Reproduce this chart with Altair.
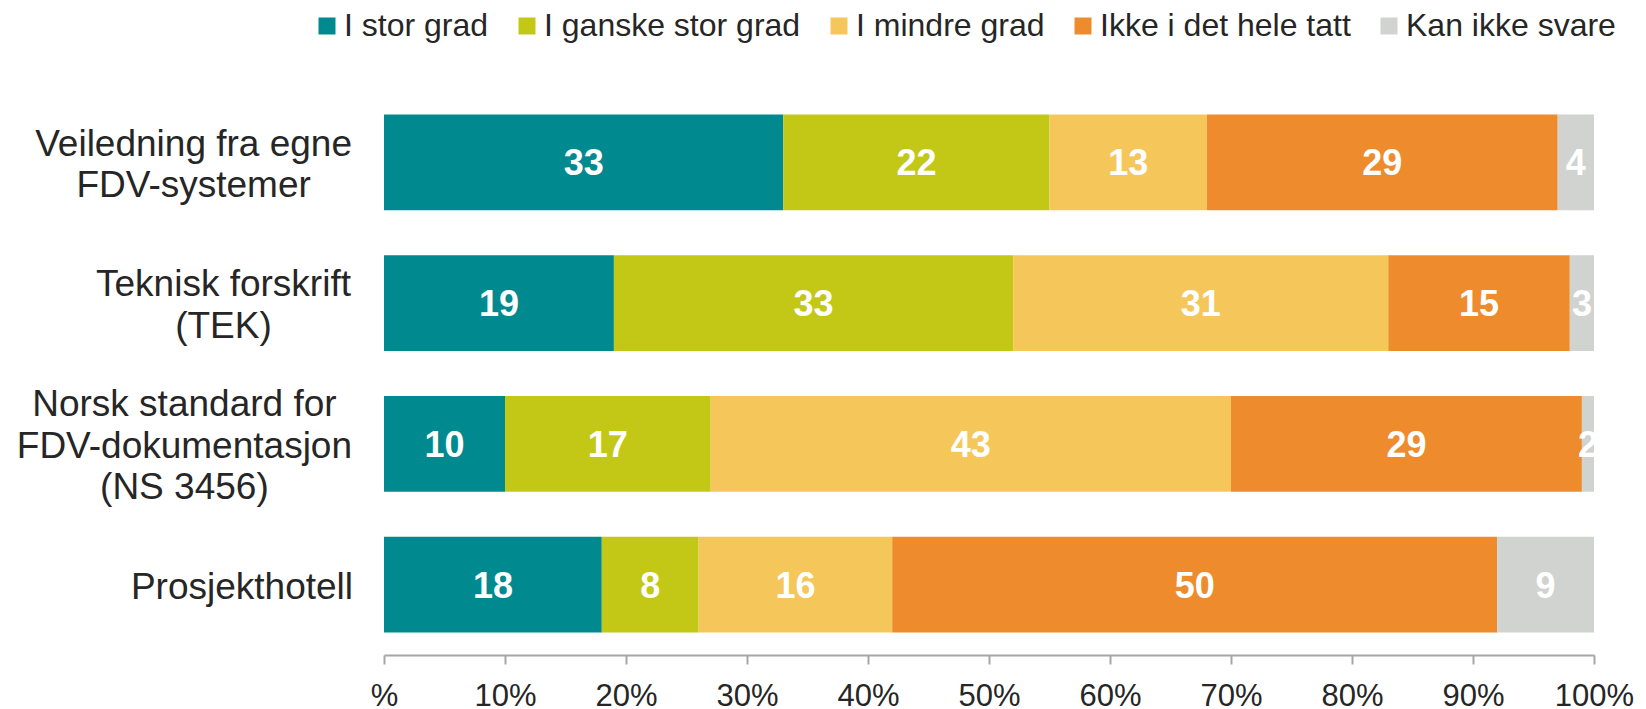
import altair as alt
import pandas as pd

# ---- data ----
cat_labels = [
    "Veiledning fra egne|FDV-systemer",
    "Teknisk forskrift|(TEK)",
    "Norsk standard for|FDV-dokumentasjon|(NS 3456)",
    "Prosjekthotell",
]
series = ["I stor grad", "I ganske stor grad", "I mindre grad", "Ikke i det hele tatt", "Kan ikke svare"]
colors = ["#008A90", "#C3C816", "#F5C75B", "#EE8C2D", "#D1D3D0"]
v_stor = [33, 19, 10, 18]
v_ganske = [22, 33, 17, 8]
v_mindre = [13, 31, 43, 16]
v_ikke = [29, 15, 29, 50]
v_kan = [4, 3, 2, 9]
tick_values = [0, 10, 20, 30, 40, 50, 60, 70, 80, 90, 100]

# ---- layout / style ----
W, H = 1210, 563
LABEL_FS = 37
LABEL_LH = 41.5
LABEL_GAP = 31

rows = []
for si, (s, vals) in enumerate(zip(series, [v_stor, v_ganske, v_mindre, v_ikke, v_kan])):
    for ci, c in enumerate(cat_labels):
        rows.append({"cat": c, "series": s, "order": si, "value": vals[ci]})
df = pd.DataFrame(rows)

# Arial / Liberation Sans advance widths (per 1000 em) for measuring label blocks
AW = {" ": 278, "(": 333, ")": 333, "-": 333, "D": 722, "E": 667, "F": 611, "K": 667,
      "N": 722, "P": 667, "S": 667, "T": 611, "V": 667, "a": 556, "c": 500, "d": 556,
      "e": 556, "f": 278, "g": 556, "h": 556, "i": 222, "j": 222, "k": 500, "l": 222,
      "m": 833, "n": 556, "o": 556, "p": 556, "r": 333, "s": 500, "t": 278, "u": 556,
      "v": 500, "y": 500}


def text_w(t, fs):
    return sum(AW.get(ch, 556) for ch in t) / 1000.0 * fs


lab_rows = []
for c in cat_labels:
    lines = c.split("|")
    w = max(text_w(line, LABEL_FS) for line in lines)
    px = -LABEL_GAP - w / 2.0
    lab_rows.append({"cat": c, "lx": px / W * 100.0, "n": len(lines)})
lab_df = pd.DataFrame(lab_rows)

xscale = alt.Scale(domain=[0, 100], nice=False, zero=False)
yscale = alt.Scale(paddingInner=0.32, paddingOuter=0.16)
yenc = alt.Y("cat:N", sort=cat_labels, axis=None, scale=yscale)

base = alt.Chart(df).transform_stack(
    stack="value", groupby=["cat"], as_=["x0", "x1"], sort=[alt.SortField("order")]
).transform_calculate(xm="(datum.x0 + min(datum.x1, 100)) / 2")

bars = base.mark_bar(clip=True).encode(
    x=alt.X(
        "x0:Q",
        scale=xscale,
        title=None,
        axis=alt.Axis(
            values=tick_values,
            labelExpr="datum.value == 0 ? '%' : datum.value + '%'",
            tickSize=9, tickWidth=2, tickColor="#A6A6A6",
            domainColor="#A6A6A6", domainWidth=2,
            labelFontSize=31, labelFont="Liberation Sans", labelColor="#262626",
            labelPadding=17, grid=False, title=None, labelFlush=False, labelOverlap=False,
        ),
    ),
    x2="x1:Q",
    y=yenc,
    color=alt.Color(
        "series:N",
        scale=alt.Scale(domain=series, range=colors),
        legend=alt.Legend(
            orient="none", legendX=-73, legendY=-82, direction="horizontal", columns=5,
            title=None, symbolType="square", symbolSize=289, symbolStrokeWidth=0,
            labelFontSize=32, labelFont="Liberation Sans", labelColor="#262626",
            columnPadding=22, labelOffset=1, padding=0, labelLimit=0,
        ),
    ),
)

nums = base.mark_text(
    clip=True, color="white", fontWeight="bold", fontSize=36,
    font="Liberation Sans", baseline="middle", align="center", dy=2,
).encode(
    x=alt.X("xm:Q", scale=xscale, title=None),
    y=yenc,
    text=alt.Text("value:Q"),
)

label_layers = []
for n in sorted(set(lab_df["n"])):
    label_layers.append(
        alt.Chart(lab_df).transform_filter(
            alt.datum.n == n
        ).transform_calculate(
            lines="split(datum.cat, '|')"
        ).mark_text(
            align="center", baseline="middle", font="Liberation Sans", fontSize=LABEL_FS,
            lineHeight=LABEL_LH, color="#262626", dy=3 - (n - 1) * LABEL_LH / 2.0,
        ).encode(
            x=alt.X("lx:Q", scale=xscale, title=None),
            y=yenc,
            text=alt.Text("lines:N"),
        )
    )

chart = alt.layer(bars, nums, *label_layers).properties(
    width=W, height=H,
    padding={"left": 376, "top": 84, "right": 44, "bottom": 54},
    autosize=alt.AutoSizeParams(type="none"),
    background="white",
).configure_view(stroke=None)

chart.save("out.html", embed_options={"renderer": "svg", "actions": False})
